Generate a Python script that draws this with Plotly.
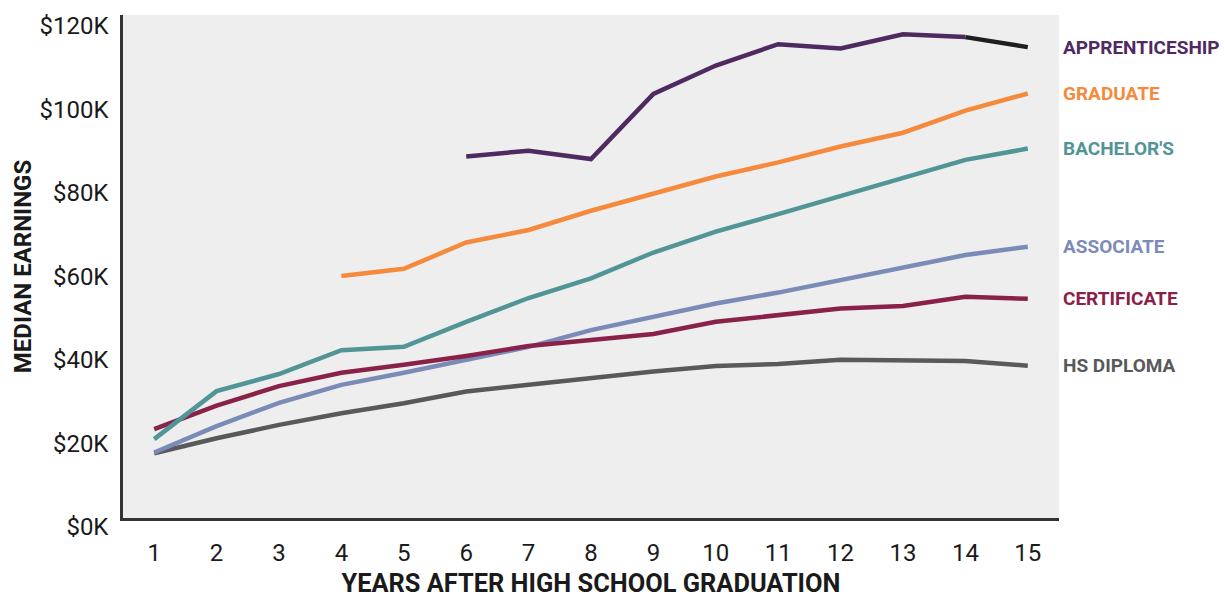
import plotly.graph_objects as go

years = list(range(1, 16))

apprenticeship_years = list(range(6, 16))
apprenticeship = [86.6, 88.0, 86.0, 101.6, 108.4, 113.5, 112.5, 115.9, 115.2, 112.8]

graduate_years = list(range(4, 16))
graduate = [58.0, 59.7, 66.0, 69.0, 73.6, 77.6, 81.8, 85.2, 89.0, 92.3, 97.6, 101.7]

bachelors = [18.9, 30.4, 34.5, 40.2, 41.0, 47.0, 52.7, 57.4, 63.6, 68.6, 72.8, 77.1, 81.4, 85.8, 88.5]
associate = [15.7, 22.0, 27.6, 31.9, 34.8, 37.9, 41.0, 45.0, 48.2, 51.4, 54.0, 57.0, 60.2, 63.0, 65.0]
certificate = [21.3, 26.9, 31.6, 34.8, 36.7, 38.8, 41.2, 42.6, 44.1, 47.0, 48.6, 50.2, 50.8, 53.0, 52.5]
hs_diploma = [15.5, 19.1, 22.3, 25.1, 27.5, 30.3, 31.9, 33.5, 35.1, 36.4, 36.9, 37.9, 37.7, 37.6, 36.5]

y_ticks = [0, 20, 40, 60, 80, 100, 120]
y_tick_labels = ["$0K", "$20K", "$40K", "$60K", "$80K", "$100K", "$120K"]

series = [
    ("HS DIPLOMA", years, hs_diploma, "#58595b"),
    ("ASSOCIATE", years, associate, "#7b8bb8"),
    ("CERTIFICATE", years, certificate, "#8a2149"),
    ("BACHELOR'S", years, bachelors, "#529596"),
    ("GRADUATE", graduate_years, graduate, "#f58a3d"),
    ("APPRENTICESHIP", apprenticeship_years[:-1], apprenticeship[:-1], "#4f2a60"),
]

fig = go.Figure()
for name, xs, ys, color in series:
    fig.add_trace(go.Scatter(x=xs, y=ys, mode="lines", name=name,
                             line=dict(color=color, width=4.5), hoverinfo="x+y"))
# last apprenticeship segment drawn in black
fig.add_trace(go.Scatter(x=apprenticeship_years[-2:], y=apprenticeship[-2:], mode="lines",
                         line=dict(color="#1e1e1e", width=4.5), showlegend=False))

label_series = [
    ("APPRENTICESHIP", apprenticeship[-1], "#4f2a60"),
    ("GRADUATE", graduate[-1], "#f58a3d"),
    ("BACHELOR'S", bachelors[-1], "#529596"),
    ("ASSOCIATE", associate[-1], "#7b8bb8"),
    ("CERTIFICATE", certificate[-1], "#8a2149"),
    ("HS DIPLOMA", hs_diploma[-1], "#58595b"),
]
for text, yv, color in label_series:
    fig.add_annotation(x=1, xref="paper", y=yv, yref="y", text="<b>" + text + "</b>",
                       showarrow=False, xanchor="left", yanchor="middle", xshift=2,
                       font=dict(family="Roboto", size=19, color=color))

fig.update_layout(
    width=1225, height=598,
    margin=dict(l=123, r=166, t=15, b=80),
    plot_bgcolor="#eeeeee", paper_bgcolor="white",
    showlegend=False,
    font=dict(family="Roboto", color="#1a1a1a"),
)
fig.update_xaxes(
    range=[0.5, 15.5], tickmode="array", tickvals=years, ticktext=[str(y) for y in years],
    showgrid=False, zeroline=False, showline=True, linecolor="#333333", linewidth=2.5,
    ticks="", tickfont=dict(size=24, family="Roboto", color="#1a1a1a"), ticklabelstandoff=11,
    automargin=False,
    title=dict(text="<b>YEARS AFTER HIGH SCHOOL GRADUATION</b>", font=dict(size=25.4, family="Roboto", color="#1a1a1a"), standoff=14),
)
fig.update_yaxes(
    range=[0, 120.5], tickmode="array", tickvals=y_ticks, ticktext=y_tick_labels,
    showgrid=False, zeroline=False, showline=True, linecolor="#333333", linewidth=2.5,
    ticks="", tickfont=dict(size=24, family="Roboto", color="#1a1a1a"), ticklabelstandoff=7,
    ticklabelshift=9, ticklabeloverflow="allow", automargin=False,
    title=dict(text="<b>MEDIAN EARNINGS</b>", font=dict(size=24, family="Roboto", color="#1a1a1a"), standoff=2),
)

fig.write_html("out.html")
